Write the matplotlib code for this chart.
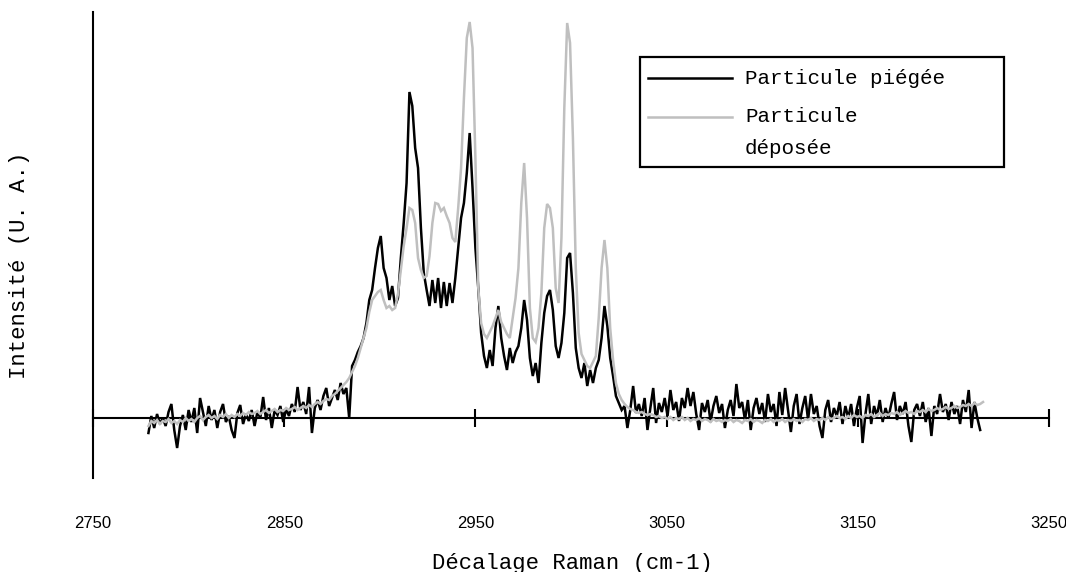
import numpy as np
import matplotlib
matplotlib.use("Agg")
import matplotlib.pyplot as plt
from matplotlib.lines import Line2D
from matplotlib.patches import Rectangle

# ---- data ----
# Raman shift sampling grid (cm-1), 1.5 cm-1 step
wavenumber = np.arange(2779.0, 3215.6, 1.5)

intensity_piegee = [
    -15, 2, -10, 4, -6, 0, -8, 6, 14, -12,
    -30, -8, 3, -12, 8, -4, 10, -15, 20, 6,
    -8, 12, -2, 8, -10, 6, 14, -4, 2, -12,
    -20, 5, 13, -6, 4, -3, 8, -8, 6, 0,
    21, -2, 10, -10, 8, 3, 12, -4, 9, 2,
    14, 6, 31, 8, 16, 4, 31, -15, 10, 18,
    8, 22, 30, 12, 20, 28, 18, 35, 24, 30,
    0, 52, 58, 66, 72, 80, 95, 118, 128, 150,
    170, 182, 150, 140, 118, 132, 112, 120, 160, 195,
    235, 326, 312, 270, 250, 190, 145, 128, 112, 138,
    115, 140, 110, 136, 112, 135, 115, 140, 170, 200,
    215, 245, 285, 230, 170, 130, 85, 62, 50, 68,
    52, 90, 112, 80, 62, 48, 70, 55, 66, 72,
    90, 118, 98, 60, 42, 55, 35, 75, 105, 122,
    128, 108, 72, 60, 75, 105, 160, 165, 125, 70,
    50, 40, 55, 32, 48, 35, 50, 58, 80, 112,
    92, 60, 42, 22, 15, 8, 12, -10, 8, 32,
    5, 14, 2, 20, -12, 10, 30, -5, 15, 6,
    20, 2, 28, 8, 16, -3, 20, 10, 30, 12,
    26, 4, -12, 15, 6, 18, -4, 12, 22, 5,
    14, -10, 8, 18, 2, 34, 10, 16, -2, 18,
    -12, 10, 20, 4, 15, -4, 24, 6, 14, -8,
    26, 3, 30, 8, -14, 12, 24, -6, 10, 22,
    -2, 24, 4, 12, -8, -20, 8, 18, -4, 10,
    2, 16, -6, 12, 0, 14, -8, 10, 22, -25,
    4, 24, -6, 12, 2, 18, -4, 10, 0, 14,
    26, -2, 12, 4, 16, -8, -24, 8, 14, 2,
    16, -4, 10, -18, 12, 4, 24, 6, 14, -2,
    16, 4, 12, -6, 18, 6, 28, -10, 16, 0,
    -12,
]

intensity_deposee = [
    -8, -3, -5, -2, -6, -3, -4, -1, -5, -3,
    -6, -2, -4, 0, -3, -1, -4, 0, 2, -2,
    1, 3, 0, 2, -1, 3, 1, 4, 0, 3,
    1, 4, 2, 5, 3, 6, 4, 5, 7, 4,
    6, 8, 5, 7, 9, 6, 8, 7, 10, 8,
    9, 11, 8, 10, 12, 10, 13, 11, 14, 16,
    14, 17, 19, 18, 22, 24, 27, 30, 33, 36,
    40, 46, 52, 60, 70, 80, 90, 106, 118, 122,
    126, 128, 118, 110, 112, 108, 110, 124, 148, 172,
    190, 210, 208, 195, 160, 148, 140, 142, 162, 195,
    215, 214, 207, 210, 202, 195, 180, 176, 210, 250,
    320, 380, 396, 370, 260, 130, 95, 84, 80, 86,
    92, 100, 108, 96, 90, 84, 80, 100, 120, 150,
    215, 255, 200, 110, 80, 76, 90, 125, 190, 214,
    210, 190, 130, 115, 180, 310, 395, 375, 280, 150,
    85, 64, 58, 52, 50, 56, 62, 100, 150, 178,
    150, 90, 58, 35, 24, 18, 14, 11, 9, 8,
    6, 5, 6, 4, 3, 4, 3, 1, 2, 0,
    1, -1, 1, -2, 0, -1, 1, -2, 0, -3,
    -1, -2, 0, -3, -1, -2, -4, -1, -3, -2,
    -4, -2, -3, -1, -4, -2, -3, -5, -2, -3,
    -1, -4, -2, -3, -5, -2, -3, -1, -4, -2,
    -3, -1, -4, -2, -3, -1, -3, -2, -4, -1,
    -2, 0, -3, -1, -2, 0, -2, 1, -1, 0,
    2, 0, 1, -1, 2, 0, 3, 1, 2, 0,
    3, 2, 4, 1, 3, 5, 2, 4, 3, 5,
    4, 6, 3, 5, 7, 5, 6, 4, 7, 6,
    8, 6, 9, 7, 8, 10, 8, 9, 11, 9,
    10, 12, 10, 11, 13, 12, 14, 12, 15, 13,
    14, 16,
]

x_ticks = [2750, 2850, 2950, 3050, 3150, 3250]
x_ticklabels = ["2750", "2850", "2950", "3050", "3150", "3250"]
series_labels = ["Particule piégée", "Particule\ndéposée"]

# ---- figure ----
W, H = 1066, 572
fig = plt.figure(figsize=(W / 100, H / 100), dpi=100)
ax = fig.add_axes([93 / W, 94 / H, 956 / W, 466 / H])

mono = ["Liberation Mono", "DejaVu Sans Mono"]
sans = ["Liberation Sans", "DejaVu Sans"]

n_black = len(intensity_piegee)
n_grey = len(intensity_deposee)
ax.plot(wavenumber[:n_black], intensity_piegee, color="black", lw=1.8,
        zorder=3, solid_joinstyle="miter")
ax.plot(wavenumber[:n_grey], intensity_deposee, color="#BFBFBF", lw=1.8,
        zorder=4, solid_joinstyle="miter")

ax.set_xlim(2750, 3250)
ax.set_ylim(-60, 406)

for s in ["top", "right"]:
    ax.spines[s].set_visible(False)
ax.spines["left"].set_linewidth(1.5)
ax.spines["bottom"].set_linewidth(1.5)
ax.spines["bottom"].set_position(("data", 0))
ax.spines["left"].set_zorder(1)
ax.spines["bottom"].set_zorder(1)
ax.set_axisbelow(True)

ax.set_yticks([])
ax.set_xticks(x_ticks)
ax.tick_params(axis="x", direction="inout", length=13, width=1.5,
               labelbottom=False)

# tick labels at the bottom of the plot area
sec = ax.secondary_xaxis(0.0)
sec.set_xticks(x_ticks)
sec.set_xticklabels(x_ticklabels, family=sans, fontsize=12)
sec.tick_params(length=0, pad=27)
sec.spines["bottom"].set_visible(False)

fig.text(572 / W, 1 - 563 / H, "Décalage Raman (cm-1)", family=mono,
         fontsize=16, ha="center", va="center")
fig.text(20 / W, 1 - 265 / H, "Intensité (U. A.)", family=mono,
         fontsize=16, ha="center", va="center", rotation=90)

# legend box
leg_l, leg_r, leg_t, leg_b = 640, 1004, 57, 167
fig.patches.append(Rectangle((leg_l / W, 1 - leg_b / H),
                             (leg_r - leg_l) / W, (leg_b - leg_t) / H,
                             transform=fig.transFigure, facecolor="white",
                             edgecolor="black", lw=1.6, zorder=5))
fig.lines.append(Line2D([648 / W, 732 / W], [1 - 78 / H, 1 - 78 / H],
                        transform=fig.transFigure, color="black", lw=1.8,
                        zorder=6))
fig.lines.append(Line2D([648 / W, 732 / W], [1 - 117 / H, 1 - 117 / H],
                        transform=fig.transFigure, color="#BFBFBF", lw=1.8,
                        zorder=6))
fig.text(745 / W, 1 - 78 / H, series_labels[0], family=mono, fontsize=15,
         ha="left", va="center", zorder=7)
lab2 = series_labels[1].split("\n")
fig.text(745 / W, 1 - 117 / H, lab2[0], family=mono, fontsize=15,
         ha="left", va="center", zorder=7)
fig.text(745 / W, 1 - 148 / H, lab2[1], family=mono, fontsize=15,
         ha="left", va="center", zorder=7)

fig.savefig("out.png", dpi=100)
